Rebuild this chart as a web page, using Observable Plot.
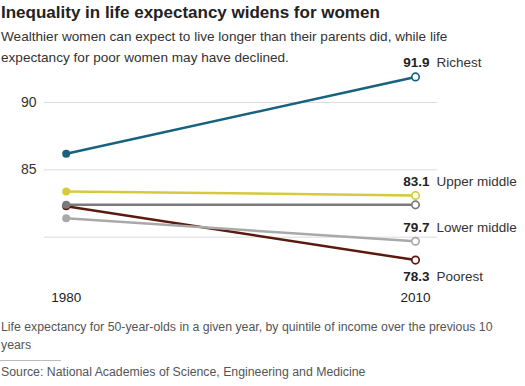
<!DOCTYPE html>
<html><head><meta charset="utf-8">
<script src="https://cdn.jsdelivr.net/npm/d3@7"></script>
<script src="https://cdn.jsdelivr.net/npm/@observablehq/plot@0.6"></script>
<style>
body{margin:0;background:#fff;font-family:"Liberation Sans",Arial,sans-serif;}
#wrap{position:relative;width:525px;height:386px;overflow:hidden;}
#title{position:absolute;left:1px;top:3px;font-size:17px;font-weight:bold;color:#222;white-space:nowrap;}
.sub{position:absolute;left:1px;font-size:13.6px;line-height:21px;color:#333;white-space:nowrap;width:fit-content;}
#chart{position:absolute;left:0;top:45px;}
#cap{position:absolute;left:1px;top:318px;width:495px;font-size:12.3px;line-height:18px;color:#555;}
#rule{position:absolute;left:0;top:360px;width:61px;height:1px;background:#bbb;}
#src{position:absolute;left:1px;top:365px;font-size:12.3px;color:#555;white-space:nowrap;}
</style></head>
<body><div id="wrap">
<div id="title">Inequality in life expectancy widens for women</div>
<div class="sub" style="top:26px">Wealthier women can expect to live longer than their parents did, while life</div>
<div class="sub" style="top:47px">expectancy for poor women may have declined.</div>
<div id="chart"></div>
<div id="cap">Life expectancy for 50-year-olds in a given year, by quintile of income over the previous 10 years</div>
<div id="rule"></div>
<div id="src">Source: National Academies of Science, Engineering and Medicine</div>
</div>
<script>
const years = [1980, 2010];
const groups = ["Poorest", "Lower middle", "Middle", "Upper middle", "Richest"];
const colors = ["#5b1a10", "#a9a9a9", "#7a7a7a", "#d6ca3c", "#17627f"];
const v1980 = [82.3, 81.4, 82.4, 83.4, 86.2];
const v2010 = [78.3, 79.7, 82.4, 83.1, 91.9];
const labelled = ["Richest", "Upper middle", "Lower middle", "Poorest"];
const labelAbove = [true, true, true, false];
const yTicks = [85, 90];
const yGrid = [80, 85, 90];

const data = [];
groups.forEach((g, i) => {
  data.push({group: g, year: years[0], value: v1980[i], color: colors[i]});
  data.push({group: g, year: years[1], value: v2010[i], color: colors[i]});
});
const ends = data.filter(d => d.year === 2010);
const labs = labelled.map((g, i) => ({...ends.find(d => d.group === g), above: labelAbove[i]}));
const fmt = d3.format(".1f");
const yearsData = years.map((y, i) => ({year: y, bold: i === 1}));

const chart = Plot.plot({
  width: 525, height: 265,
  marginLeft: 44, marginRight: 88, marginTop: 16.6, marginBottom: 32.9,
  x: {domain: [1980, 2010], insetLeft: 21.7, insetRight: 22, axis: null},
  y: {domain: [77, 93], axis: null},
  style: {fontFamily: "Liberation Sans, Arial, sans-serif"},
  marks: [
    Plot.gridY(yGrid, {stroke: "#dcdcdc", strokeOpacity: 1, strokeWidth: 1}),
    Plot.axisY(yTicks, {tickSize: 0, tickPadding: 8, fontSize: 14, fill: "#333", label: null}),
    Plot.line(data, {x: "year", y: "value", z: "group", stroke: "color", strokeWidth: 2.5}),
    Plot.dot(data.filter(d => d.year === 1980), {x: "year", y: "value", fill: "color", r: 4}),
    Plot.dot(ends, {x: "year", y: "value", stroke: "color", fill: "white", r: 3.7, strokeWidth: 1.7}),
    Plot.text(labs.filter(d => d.above), {x: "year", y: "value", text: d => fmt(d.value), textAnchor: "end", dx: 14, dy: -14, fontWeight: "bold", fontSize: 13.5, fill: "#222"}),
    Plot.text(labs.filter(d => d.above), {x: "year", y: "value", text: "group", textAnchor: "start", dx: 21, dy: -14, fontSize: 13.5, fill: "#333"}),
    Plot.text(labs.filter(d => !d.above), {x: "year", y: "value", text: d => fmt(d.value), textAnchor: "end", dx: 14, dy: 17, fontWeight: "bold", fontSize: 13.5, fill: "#222"}),
    Plot.text(labs.filter(d => !d.above), {x: "year", y: "value", text: "group", textAnchor: "start", dx: 21, dy: 17, fontSize: 13.5, fill: "#333"}),
    Plot.text(yearsData, {x: "year", text: d => String(d.year), frameAnchor: "bottom", dy: 20, lineAnchor: "middle", fontSize: 13.5, fill: "#222", fontWeight: d => d.bold ? "bold" : "normal"})
  ]
});
document.getElementById("chart").appendChild(chart);
</script>
</body></html>
